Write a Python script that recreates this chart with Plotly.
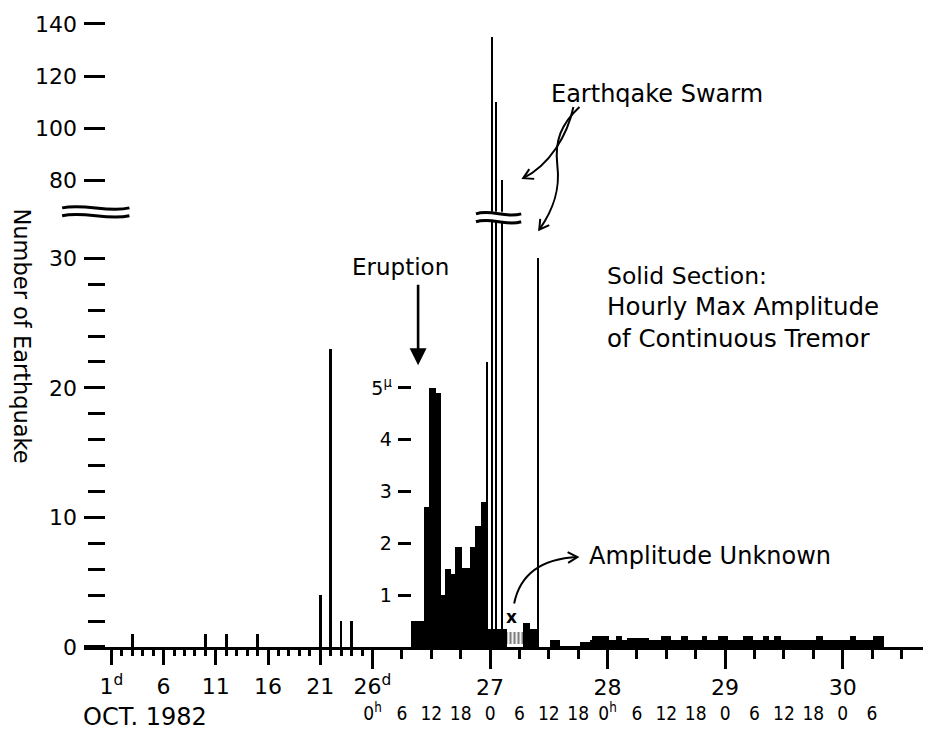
import math
import plotly.graph_objects as go

# ------------------------------------------------------------------ data
# Daily earthquake counts, October 1982 (day of month)
quake_days = [3, 10, 12, 15, 21, 22, 23, 24]
quake_day_counts = [1, 1, 1, 1, 4, 23, 2, 2]

# Earthquake swarm: counts per hour (time in hours after 26 Oct 00h)
swarm_hours = [23.2, 24.2, 25.2, 26.4, 33.7]
swarm_counts = [22, 135, 110, 80, 30]

# Hourly maximum amplitude of continuous tremor (micron); steps start/end in hours after 26 Oct 00h
tremor_start = [7.8, 10.32, 11.43, 12.78, 13.95, 14.71, 16.0, 16.68, 18.2, 19.75,
                20.92, 21.95, 23.18, 30.6, 32.0, 36.1, 38.2, 42.3, 44.3]
tremor_end = [10.32, 11.43, 12.78, 13.95, 14.71, 16.0, 16.68, 18.2, 19.75, 20.92,
              21.95, 23.18, 27.3, 32.0, 33.6, 38.2, 42.3, 44.3, 104.4]
tremor_amp = [0.5, 2.7, 5.0, 4.9, 1.0, 1.51, 1.41, 1.93, 1.53, 1.93,
              2.33, 2.81, 0.35, 0.47, 0.36, 0.13, 0.03, 0.1, 0.13]
# small peaks on the weak tremor after 27 Oct
bump_start = [44.7, 49.6, 51.9, 58.9, 62.8, 67.1, 70.4, 75.5, 79.6, 81.8, 90.5, 97.4, 102.2]
bump_end = [48.2, 50.9, 56.4, 60.9, 64.4, 68.3, 72.4, 77.5, 80.8, 83.3, 91.9, 98.7, 104.4]
bump_amp = [0.22, 0.22, 0.18, 0.22, 0.22, 0.22, 0.22, 0.22, 0.22, 0.22, 0.22, 0.22, 0.22]
# amplitude unknown (hatched)
unknown_start = [27.3]
unknown_end = [30.6]
unknown_low = [0.07]
unknown_high = [0.29]
unknown_mark_hour = 28.3
unknown_mark_amp = 0.57
eruption_hour = 9.3

# Tick labels
count_ticks_low = [0, 10, 20, 30]
count_minor_low = [2, 4, 6, 8, 12, 14, 16, 18, 22, 24, 26, 28]
count_ticks_high = [80, 100, 120, 140]
amp_ticks = [1, 2, 3, 4, 5]
amp_ticktext = ["1", "2", "3", "4", "5<sup>μ</sup>"]
day_tickvals = [1, 6, 11, 16, 21, 26]
day_ticktext = ["1<sup>d</sup>", "6", "11", "16", "21", "26<sup>d</sup>"]
day_minor = [2, 3, 4, 5, 7, 8, 9, 10, 12, 13, 14, 15, 17, 18, 19, 20, 22, 23, 24, 25]
date_tickvals = [0, 24, 48, 72, 96]
date_ticktext = ["", "27", "28", "29", "30"]
hour_minor = [6, 12, 18, 30, 36, 42, 54, 60, 66, 78, 84, 90, 102, 108]
hour_tickvals = [0, 6, 12, 18, 24, 30, 36, 42, 48, 54, 60, 66, 72, 78, 84, 90, 96, 102]
hour_ticktext = ["0<sup>h</sup>", "6", "12", "18", "0", "6", "12", "18",
                 "0<sup>h</sup>", "6", "12", "18", "0", "6", "12", "18", "0", "6"]

# ------------------------------------------------------------------ geometry
W, H = 938, 732
L, R, T, B = 76, 8, 4, 93
PW, PH = W - L - R, H - T - B
OFF = 8                      # page offset of the figure
FONT = "DejaVu Sans"
BLACK = "black"


def page_x(xr):
    return 120 + (xr - 120) / 0.978


def fx(xr):
    return (page_x(xr) - OFF - L) / PW


def fy(yr):
    return (H - B + OFF - yr) / PH


def P(x, y):
    return f"{fx(x):.5f},{fy(y):.5f}"


plot_left_page = L + OFF
day1_page, day26_page = page_x(112), page_x(372)
px_day = (day26_page - day1_page) / 25
split = (day26_page - plot_left_page) / PW
day_range = [1 - (day1_page - plot_left_page) / px_day, 26.0]
px_hour = 4.875 / 0.978
hour_range = [-0.01, (W - day26_page) / px_hour]

low_top = fy(208)
high_bot = fy(207)
low_range = [0, (647 - 208) / 13.1]
high_range = [80 - (207 - 175) / 2.633, 80 + (175 - 12) / 2.633]
amp_range = [0, low_range[1] / 4.0]

fig = go.Figure()
nob = dict(width=0)

fig.add_trace(go.Bar(x=quake_days, y=quake_day_counts, width=0.25,
                     marker=dict(color=BLACK, line=nob), xaxis="x", yaxis="y"))
fig.add_trace(go.Bar(x=swarm_hours, y=swarm_counts, width=0.42,
                     marker=dict(color=BLACK, line=nob), xaxis="x2", yaxis="y"))
fig.add_trace(go.Bar(x=swarm_hours, y=swarm_counts, width=0.42,
                     marker=dict(color=BLACK, line=nob), xaxis="x2", yaxis="y3"))
fig.add_trace(go.Bar(x=[(a + b) / 2 for a, b in zip(tremor_start, tremor_end)], y=tremor_amp,
                     width=[b - a for a, b in zip(tremor_start, tremor_end)],
                     marker=dict(color=BLACK, line=nob), xaxis="x2", yaxis="y4"))
fig.add_trace(go.Bar(x=[(a + b) / 2 for a, b in zip(bump_start, bump_end)], y=bump_amp,
                     width=[b - a for a, b in zip(bump_start, bump_end)],
                     marker=dict(color=BLACK, line=nob), xaxis="x2", yaxis="y4"))
fig.add_trace(go.Bar(x=[(a + b) / 2 for a, b in zip(unknown_start, unknown_end)],
                     y=[h - l for h, l in zip(unknown_high, unknown_low)], base=unknown_low,
                     width=[b - a for a, b in zip(unknown_start, unknown_end)],
                     marker=dict(color="white", line=nob,
                                 pattern=dict(shape="|", fgcolor=BLACK, bgcolor="white",
                                              size=4, solidity=0.55)),
                     xaxis="x2", yaxis="y4"))
fig.add_trace(go.Scatter(x=[None], y=[None], xaxis="x3", yaxis="y",
                         mode="markers", hoverinfo="skip"))

tickfont = dict(family=FONT, size=22, color=BLACK)
tick_common = dict(showgrid=False, zeroline=False, tickcolor=BLACK, tickwidth=2.5,
                   ticklabeloverflow="allow")

fig.update_layout(
    width=W, height=H,
    margin=dict(l=L, r=R, t=T, b=B, pad=0),
    paper_bgcolor="white", plot_bgcolor="white",
    showlegend=False, hovermode=False, barmode="overlay", bargap=0,
    font=dict(family=FONT, size=22, color=BLACK),
    xaxis=dict(domain=[0, split], range=day_range, anchor="y",
               showline=True, linecolor=BLACK, linewidth=2.5,
               ticks="outside", ticklen=15,
               tickvals=day_tickvals, ticktext=day_ticktext,
               tickfont=tickfont, ticklabelstandoff=3,
               minor=dict(tickvals=day_minor, ticks="outside", ticklen=6,
                          tickwidth=2.5, tickcolor=BLACK, showgrid=False),
               **tick_common),
    xaxis2=dict(domain=[split, 1], range=hour_range, anchor="y",
                showline=True, linecolor=BLACK, linewidth=2.5,
                ticks="outside", ticklen=19,
                tickvals=date_tickvals, ticktext=date_ticktext,
                tickfont=tickfont, ticklabelstandoff=0,
                minor=dict(tickvals=hour_minor, ticks="outside", ticklen=9,
                           tickwidth=2.5, tickcolor=BLACK, showgrid=False),
                **tick_common),
    xaxis3=dict(overlaying="x2", range=hour_range, anchor="y",
                showgrid=False, zeroline=False, showline=False, ticks="",
                tickvals=hour_tickvals, ticktext=hour_ticktext,
                tickfont=dict(family="DejaVu Sans Condensed, " + FONT, size=19, color=BLACK),
                ticklabelstandoff=53, ticklabeloverflow="allow"),
    yaxis=dict(domain=[0, low_top], range=low_range, anchor="free",
               position=fx(106), showline=False,
               ticks="outside", ticklen=21,
               tickvals=count_ticks_low, tickfont=tickfont, ticklabelstandoff=3,
               minor=dict(tickvals=count_minor_low, ticks="outside", ticklen=17,
                          tickwidth=2.5, tickcolor=BLACK, showgrid=False),
               **tick_common),
    yaxis3=dict(domain=[high_bot, 1], range=high_range, anchor="free",
                position=fx(106), showline=False,
                ticks="outside", ticklen=21,
                tickvals=count_ticks_high, tickfont=tickfont, ticklabelstandoff=3,
                **tick_common),
    yaxis4=dict(overlaying="y", range=amp_range, anchor="free",
                position=fx(410), showline=False,
                ticks="outside", ticklen=13,
                tickvals=amp_ticks, ticktext=amp_ticktext,
                tickfont=dict(family=FONT, size=19, color=BLACK), ticklabelstandoff=2,
                **tick_common),
)


# ------------------------------------------------------------------ decorations
def wave_path(x0, x1, y, a):
    w = x1 - x0
    return f"M {P(x0, y)} C {P(x0 + w / 3, y - a)} {P(x0 + 2 * w / 3, y + a)} {P(x1, y)}"


shapes = []
line_style = dict(color=BLACK, width=3)
for yy in (203, 211):
    shapes.append(dict(type="path", xref="paper", yref="paper",
                       path=wave_path(63, 130, yy, 5), line=line_style))
gx0, gx1, gy0, gy1 = 473, 522, 209, 217
w = gx1 - gx0
gap = (f"M {P(gx0, gy0)} C {P(gx0 + w / 3, gy0 - 5)} {P(gx0 + 2 * w / 3, gy0 + 5)} {P(gx1, gy0)} "
       f"L {P(gx1, gy1)} C {P(gx0 + 2 * w / 3, gy1 + 5)} {P(gx0 + w / 3, gy1 - 5)} {P(gx0, gy1)} Z")
shapes.append(dict(type="path", xref="paper", yref="paper", path=gap,
                   fillcolor="white", line=dict(width=0)))
for yy in (gy0, gy1):
    shapes.append(dict(type="path", xref="paper", yref="paper",
                       path=wave_path(475, 520, yy, 5), line=line_style))


def curve_arrow(pts, head=11, ang=30):
    d = f"M {P(*pts[0])}"
    for i in range(1, len(pts), 3):
        d += f" C {P(*pts[i])} {P(*pts[i + 1])} {P(*pts[i + 2])}"
    tip, prev = pts[-1], pts[-2]
    dx, dy = tip[0] - prev[0], tip[1] - prev[1]
    n = math.hypot(dx, dy)
    ux, uy = dx / n, dy / n
    out = [dict(type="path", xref="paper", yref="paper", path=d,
                line=dict(color=BLACK, width=2))]
    wings = []
    for s in (1, -1):
        a = math.radians(ang) * s
        bx = -(ux * math.cos(a) - uy * math.sin(a)) * head
        by = -(ux * math.sin(a) + uy * math.cos(a)) * head
        wings.append((tip[0] + bx, tip[1] + by))
    out.append(dict(type="path", xref="paper", yref="paper",
                    path=f"M {P(*wings[0])} L {P(*tip)} L {P(*wings[1])}",
                    line=dict(color=BLACK, width=2)))
    return out


shapes += curve_arrow([(572, 101), (566, 130), (548, 160), (522, 173)])
shapes += curve_arrow([(578, 101), (560, 118), (553, 135), (556, 160),
                       (559, 185), (552, 205), (538, 225)])
shapes += curve_arrow([(513, 603), (518, 578), (535, 558), (576, 556)])
fig.update_layout(shapes=shapes)


def label(text, x, y, xanchor="left", size=24, **kw):
    return dict(text=text, x=fx(x), y=fy(y), xref="paper", yref="paper",
                xanchor=xanchor, yanchor="middle", showarrow=False,
                font=dict(family=FONT, size=size, color=BLACK), **kw)


annotations = [
    label("Number of Earthquake", 23, 333, xanchor="center", size=22.5, textangle=90),
    label("OCT. 1982", 82, 718, size=24),
    label("Eruption", 400, 263, xanchor="center", size=23),
    dict(text="", x=eruption_hour, y=fy(362), xref="x2", yref="paper",
         showarrow=True, ax=0, ay=-82, arrowhead=2, arrowsize=1.3, arrowwidth=2.6,
         arrowcolor=BLACK, standoff=0),
    label("Earthqake Swarm", 548, 88, size=24),
    label("Solid Section:", 603, 272, size=23.5),
    label("Hourly Max Amplitude", 603, 303, size=24.5),
    label("of Continuous Tremor", 603, 335, size=24.5),
    label("Amplitude Unknown", 586, 555, size=24),
    dict(text="<b>x</b>", x=unknown_mark_hour, y=unknown_mark_amp, xref="x2", yref="y4",
         showarrow=False, font=dict(family=FONT, size=17, color=BLACK)),
]
fig.update_layout(annotations=annotations)

fig.write_html("out.html")
